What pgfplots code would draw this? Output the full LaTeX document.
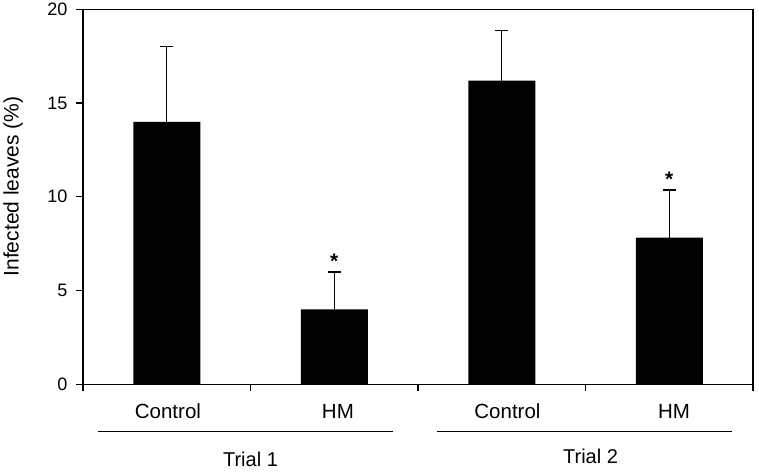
\documentclass[border=0pt]{standalone}
\usepackage{fontspec}
\setmainfont{Liberation Sans}
\usepackage{pgfplots}
\pgfplotsset{compat=1.18}
\begin{document}
\begin{tikzpicture}[x=1pt,y=1pt]
\path[use as bounding box] (-83,-86.7) rectangle (676,384.3);
\begin{axis}[
  at={(0,0)}, anchor=south west, scale only axis,
  width=670pt, height=375pt,
  xmin=0, xmax=4, ymin=0, ymax=20,
  xtick={0,1,2,3,4}, xticklabels={},
  ytick={0,5,10,15,20},
  tick align=outside, xtick pos=left, ytick pos=left,
  major tick length=7pt,
  axis line style={line width=1.4pt},
  every tick/.style={black, line width=1.4pt},
  /pgf/number format/assume math mode=true,
  yticklabel style={font=\fontsize{18}{20}\selectfont, xshift=-5pt},
  ylabel={Infected leaves (\%)},
  every axis y label/.style={at={(rel axis cs:0,0.5275)}, xshift=-69.7pt, rotate=90, anchor=center, font=\fontsize{21}{24}\selectfont},
  clip=false,
]
\addplot[ybar, bar width=0.4, fill=black, draw=none,
  error bars/.cd, y dir=plus, y explicit,
  error bar style={draw=black, line width=1.4pt},
  error mark options={rotate=90, draw=black, mark size=6.5pt, line width=1.4pt}]
  coordinates {(0.5,14.0) +- (0,4.0) (1.5,4.0) +- (0,2.0) (2.5,16.2) +- (0,2.66) (3.5,7.82) +- (0,2.55)};
\addplot[draw=none, mark=none, nodes near coords={*},
  every node near coord/.append style={anchor=base, yshift=3pt, inner sep=0pt, font=\fontsize{21}{24}\selectfont\bfseries}]
  coordinates {(1.5,6.0) (3.5,10.37)};
\draw[line width=1.4pt] ([yshift=-47.4pt]axis cs:0.09,0) -- ([yshift=-47.4pt]axis cs:1.851,0);
\draw[line width=1.4pt] ([yshift=-47.4pt]axis cs:2.113,0) -- ([yshift=-47.4pt]axis cs:3.875,0);
\node[anchor=base, font=\fontsize{20.5}{23}\selectfont] at ([yshift=-34pt]axis cs:0.507,0) {Control};
\node[anchor=base, font=\fontsize{20.5}{23}\selectfont] at ([yshift=-34pt]axis cs:1.522,0) {HM};
\node[anchor=base, font=\fontsize{20.5}{23}\selectfont] at ([yshift=-34pt]axis cs:2.534,0) {Control};
\node[anchor=base, font=\fontsize{20.5}{23}\selectfont] at ([yshift=-34pt]axis cs:3.528,0) {HM};
\node[anchor=base, font=\fontsize{20}{23}\selectfont] at ([yshift=-82.4pt]axis cs:1.0,0) {Trial 1};
\node[anchor=base, font=\fontsize{20}{23}\selectfont] at ([yshift=-79pt]axis cs:3.03,0) {Trial 2};
\end{axis}
\end{tikzpicture}
\end{document}
